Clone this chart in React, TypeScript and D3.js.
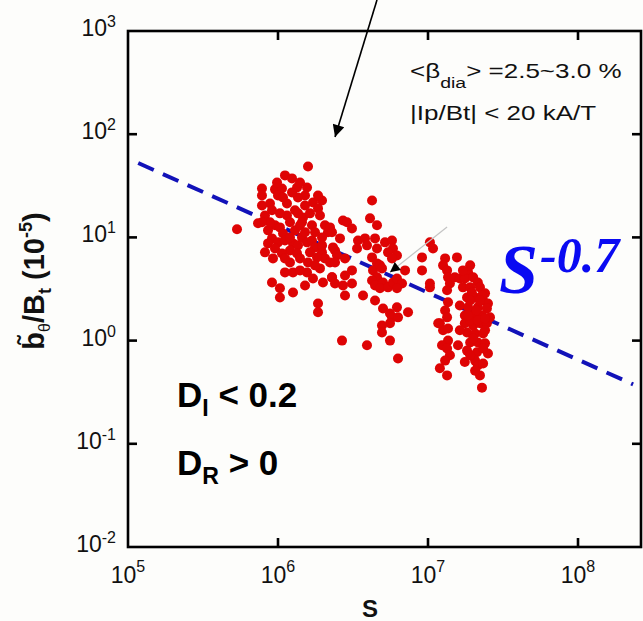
import React from "react";
import * as d3 from "d3";

const W = 643;
const H = 621;
const PLOT = { left: 128, top: 31, right: 641, bottom: 547 };

const xDomain: [number, number] = [1e5, 2.63e8];
const yDomain: [number, number] = [1e-2, 1e3];
const xTicks = [1e5, 1e6, 1e7, 1e8];
const xTickExp = ["5", "6", "7", "8"];
const yTicks = [1e-2, 1e-1, 1e0, 1e1, 1e2, 1e3];
const yTickExp = ["-2", "-1", "0", "1", "2", "3"];

// [S in units of 1e6, b/Bt in units of 1e-5]
const groupLowS: [number, number][] = [
  [1.585, 48.7], [1.113, 39.9], [1.24, 37.3], [0.782, 29.8], [0.782, 25.5], [0.955, 29.2],
  [1.063, 29.8], [1.0, 25.5], [1.339, 30.5], [1.561, 30.5], [1.514, 25.5], [1.359, 24.4],
  [1.711, 21.8], [1.965, 22.8], [1.848, 19.1], [0.884, 21.3], [0.912, 18.3], [1.148, 21.3],
  [1.148, 16.3], [1.298, 18.3], [1.468, 15.6], [1.445, 14.0], [1.634, 17.1], [0.533, 12.0],
  [0.736, 13.7], [0.955, 13.1], [1.03, 12.5], [0.858, 11.7], [1.08, 10.9], [0.912, 9.78],
  [1.0, 8.95], [0.858, 8.75], [0.955, 7.82], [1.298, 11.7], [1.445, 10.0], [1.259, 8.75],
  [1.359, 8.37], [1.202, 7.48], [1.339, 7.0], [1.561, 8.95], [1.685, 9.35], [1.765, 8.0],
  [1.965, 7.16], [1.634, 7.16], [2.056, 6.26], [1.82, 6.4], [1.585, 5.72], [1.402, 6.26],
  [1.063, 7.0], [0.926, 6.26], [0.819, 7.16], [1.685, 13.1], [2.056, 13.1], [2.154, 11.2],
  [1.965, 10.0], [1.113, 4.58], [1.259, 4.58], [1.561, 4.58], [1.711, 4.0], [1.995, 3.66],
  [2.291, 4.1], [0.912, 3.66], [1.03, 3.21], [1.03, 2.62], [1.259, 2.93], [1.514, 3.42],
  [1.848, 2.29], [1.848, 1.88], [0.819, 16.3], [1.03, 17.1], [1.202, 14.0], [1.402, 13.1],
  [1.514, 20.4], [1.113, 9.35], [1.765, 11.2], [1.202, 5.72], [1.402, 4.79], [1.905, 5.01],
  [2.399, 7.48], [2.222, 5.72], [0.884, 14.0], [1.08, 24.4], [1.24, 27.3], [1.848, 25.5],
  [1.359, 17.1], [0.782, 20.4], [0.985, 34.1], [1.402, 34.1], [1.905, 16.3], [1.202, 10.0],
  [1.514, 11.2], [1.113, 6.26], [1.965, 8.37], [0.782, 14.0], [1.765, 5.36],
];

const groupMidS: [number, number][] = [
  [4.236, 22.8], [2.712, 14.6], [2.884, 14.0], [3.113, 12.2], [2.222, 12.5], [2.291, 11.2],
  [4.105, 15.3], [4.571, 13.1], [2.59, 9.78], [2.326, 8.0], [2.474, 6.69], [2.399, 5.72],
  [3.415, 9.35], [3.802, 9.78], [3.365, 7.82], [3.92, 8.37], [4.571, 7.82], [4.434, 9.78],
  [5.168, 8.95], [5.754, 9.35], [5.84, 7.82], [5.412, 7.16], [6.21, 6.69], [5.754, 6.26],
  [2.797, 6.26], [3.113, 4.79], [2.797, 4.28], [2.291, 4.1], [2.399, 3.58], [2.712, 3.42],
  [3.113, 3.58], [2.797, 2.74], [4.236, 6.4], [4.571, 5.6], [4.3, 4.79], [4.786, 5.36],
  [4.935, 5.01], [4.571, 4.1], [4.236, 3.83], [4.434, 3.42], [5.012, 3.66], [4.786, 3.21],
  [5.412, 3.28], [5.84, 3.66], [6.21, 4.0], [6.71, 3.58], [7.03, 4.79], [6.21, 3.21],
  [3.69, 2.74], [4.434, 2.45], [5.012, 2.05], [5.58, 1.83], [6.21, 2.1], [5.754, 1.68],
  [6.31, 1.68], [5.58, 1.47], [7.36, 1.88], [4.935, 1.4], [4.935, 1.2], [10.3, 8.95],
  [10.8, 7.82], [9.12, 6.4], [9.12, 4.79], [10.3, 3.58], [10.3, 3.28], [2.671, 1.0],
  [3.92, 0.9], [5.58, 1.0], [6.31, 0.67],
];

const groupHighS: [number, number][] = [
  [13.0, 6.26], [12.6, 5.36], [13.4, 4.79], [13.6, 4.1], [14.0, 3.58], [13.4, 3.07],
  [13.6, 2.35], [13.0, 1.96], [13.4, 1.68], [12.0, 1.47], [12.6, 1.26], [13.6, 1.31],
  [13.6, 1.0], [12.4, 0.9], [13.4, 0.84], [14.0, 0.72], [13.0, 0.64], [12.0, 0.54],
  [13.4, 0.46], [15.6, 6.4], [15.1, 4.1], [16.3, 4.0], [11.7, 1.47], [18.5, 4.58],
  [17.6, 4.0], [20.0, 4.1], [21.5, 3.66], [17.1, 3.28], [19.1, 3.28], [22.2, 3.28],
  [24.0, 2.87], [18.2, 2.62], [20.6, 2.62], [23.3, 2.45], [25.1, 2.29], [16.3, 2.19],
  [18.5, 2.1], [21.5, 2.1], [24.7, 2.05], [17.6, 1.75], [20.0, 1.75], [22.9, 1.75],
  [25.9, 1.68], [17.6, 1.47], [20.0, 1.4], [22.2, 1.47], [24.7, 1.47], [18.2, 1.2],
  [20.6, 1.17], [23.3, 1.17], [19.1, 0.96], [21.5, 0.96], [24.0, 0.94], [18.2, 0.8],
  [21.2, 0.77], [25.1, 0.75], [17.6, 0.62], [20.6, 0.64], [21.5, 0.575], [23.3, 0.6],
  [22.2, 0.46], [22.9, 0.35], [19.1, 5.36], [17.1, 4.79], [19.6, 2.93], [22.9, 2.74],
  [19.1, 1.57], [16.3, 1.26], [15.85, 0.9], [21.0, 1.96], [24.0, 1.26], [19.1, 2.45],
  [22.2, 2.45], [18.5, 1.75], [21.5, 1.57], [24.0, 1.64], [20.0, 1.05], [23.3, 0.84],
  [19.1, 0.72], [20.6, 0.51],
];

// fitted power law b = fitCoef * (S / 1e5)^fitExponent
const fitExponent = -0.65;
const fitCoef = 58.2;
const fitRange: [number, number] = [1.17e5, 2.33e8];

// annotation arrows in data coordinates: [S, b] -> [S, b]
const topArrow: [[number, number], [number, number]] = [[4.57e6, 2000], [2.4e6, 94]];
const midArrow: [[number, number], [number, number]] = [[1.34e7, 12.6], [5.58e6, 4.6]];

export default function App() {
  const x = d3.scaleLog().domain(xDomain).range([PLOT.left, PLOT.right]);
  const y = d3.scaleLog().domain(yDomain).range([PLOT.bottom, PLOT.top]);

  const allPoints = [...groupLowS, ...groupMidS, ...groupHighS];
  const fitPts: [number, number][] = fitRange.map((s) => [s, fitCoef * Math.pow(s / 1e5, fitExponent)]);
  const line = d3
    .line<[number, number]>()
    .x((d) => x(d[0]))
    .y((d) => y(d[1]));

  const sans = "'Liberation Sans', Arial, Helvetica, sans-serif";
  const serif = "'Liberation Serif', 'Times New Roman', serif";
  const tickLen = 9;

  return (
    <svg width={W} height={H} style={{ position: "absolute", left: 0, top: 0 }} fontFamily={sans}>
      <defs>
        <marker id="ahTop" viewBox="0 0 10 10" refX="10" refY="5" markerUnits="userSpaceOnUse" markerWidth="16" markerHeight="12" orient="auto">
          <path d="M0,0 L10,5 L0,10 z" fill="#000" />
        </marker>
        <marker id="ahMid" viewBox="0 0 10 10" refX="10" refY="5" markerUnits="userSpaceOnUse" markerWidth="13" markerHeight="10" orient="auto">
          <path d="M0,0 L10,5 L0,10 z" fill="#000" />
        </marker>
      </defs>
      <rect x={0} y={0} width={W} height={H} fill="#fdfdfb" />

      {/* fit line */}
      <path d={line(fitPts) || ""} fill="none" stroke="#1212b8" strokeWidth={4} strokeDasharray="17 10" />

      {/* points */}
      {allPoints.map((p, i) => (
        <circle key={i} cx={x(p[0] * 1e6)} cy={y(p[1])} r={5} fill="#de0404" />
      ))}

      {/* arrows */}
      <line
        x1={x(midArrow[0][0])} y1={y(midArrow[0][1])}
        x2={x(midArrow[1][0])} y2={y(midArrow[1][1])}
        stroke="#c4c4c4" strokeWidth={1.2} markerEnd="url(#ahMid)"
      />
      <line
        x1={x(topArrow[0][0])} y1={y(topArrow[0][1])}
        x2={x(topArrow[1][0])} y2={y(topArrow[1][1])}
        stroke="#000" strokeWidth={1.6} markerEnd="url(#ahTop)"
      />

      {/* frame */}
      <rect x={PLOT.left} y={PLOT.top} width={PLOT.right - PLOT.left} height={PLOT.bottom - PLOT.top} fill="none" stroke="#000" strokeWidth={2.6} />
      {xTicks.slice(1).map((t, i) => (
        <g key={"xt" + i}>
          <line x1={x(t)} x2={x(t)} y1={PLOT.bottom} y2={PLOT.bottom - tickLen} stroke="#000" strokeWidth={2.6} />
          <line x1={x(t)} x2={x(t)} y1={PLOT.top} y2={PLOT.top + tickLen} stroke="#000" strokeWidth={2.6} />
        </g>
      ))}
      {yTicks.slice(1, -1).map((t, i) => (
        <g key={"yt" + i}>
          <line x1={PLOT.left} x2={PLOT.left + tickLen} y1={y(t)} y2={y(t)} stroke="#000" strokeWidth={2.6} />
          <line x1={PLOT.right} x2={PLOT.right - tickLen} y1={y(t)} y2={y(t)} stroke="#000" strokeWidth={2.6} />
        </g>
      ))}

      {/* tick labels */}
      {xTicks.map((t, i) => (
        <text key={"xl" + i} x={x(t)} y={583} textAnchor="middle" fontSize={23} fill="#111">
          10<tspan fontSize={16} dy={-11}>{xTickExp[i]}</tspan>
        </text>
      ))}
      {yTicks.map((t, i) => (
        <text key={"yl" + i} x={116} y={y(t) + 5} textAnchor="end" fontSize={23} fill="#111">
          10<tspan fontSize={16} dy={-9}>{yTickExp[i]}</tspan>
        </text>
      ))}

      {/* axis titles */}
      <text x={370} y={617} textAnchor="middle" fontSize={24} fontWeight="bold" fill="#111">S</text>
      <text transform="translate(44,281) rotate(-90)" textAnchor="middle" fontSize={29} fontWeight="bold" fill="#111">
        {"b\u0303"}
        <tspan fontSize={16} fontWeight="normal" dy={6}>θ</tspan>
        <tspan dy={-6}>/B</tspan>
        <tspan fontSize={18} dy={7}>t</tspan>
        <tspan dy={-7}> (10</tspan>
        <tspan fontSize={18} dy={-12}>-5</tspan>
        <tspan dy={12}>)</tspan>
      </text>

      {/* annotation text */}
      <g transform="translate(410,0) scale(1.3,1)" fill="#111" fontSize={20}>
        <text x={0} y={78}>
          {"<β"}
          <tspan fontSize={15} dy={10}>dia</tspan>
          <tspan dy={-10}>{"> =2.5~3.0 %"}</tspan>
        </text>
        <text x={0} y={120}>|Ip/Bt| &lt; 20 kA/T</text>
      </g>

      <text x={499} y={293} fontFamily={serif} fontStyle="italic" fontWeight="bold" fontSize={70} fill="#0a0af2">S</text>
      <text x={540} y={272} fontFamily={serif} fontStyle="italic" fontWeight="bold" fontSize={50} fill="#0a0af2">-0.7</text>

      <text x={177} y={407} fontSize={35} fontWeight="bold" fill="#000">
        D<tspan fontSize={23} dy={9}>I</tspan>
        <tspan dy={-9}> &lt; 0.2</tspan>
      </text>
      <text x={177} y={475} fontSize={35} fontWeight="bold" fill="#000">
        D<tspan fontSize={23} dy={9}>R</tspan>
        <tspan dy={-9}> &gt; 0</tspan>
      </text>
    </svg>
  );
}
